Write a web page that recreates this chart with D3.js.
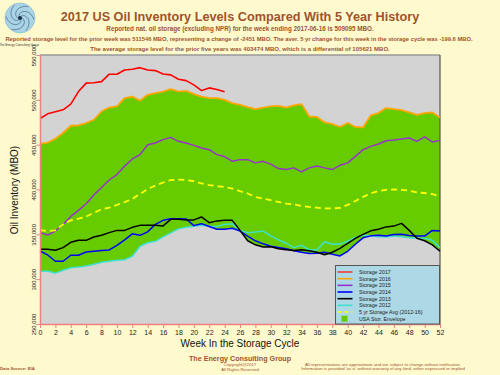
<!DOCTYPE html>
<html><head><meta charset="utf-8">
<script src="https://cdn.jsdelivr.net/npm/d3@7"></script>
<style>
html,body{margin:0;padding:0;background:#FFFACD;}
svg{display:block;font-family:"Liberation Sans",Arial,sans-serif;}
</style></head>
<body>
<svg id="chart" width="500" height="375"></svg>
<script>
const weeks = d3.range(0, 53);
const s2017 = [479200,484400,486700,488900,495200,509200,518600,519000,520300,528600,528600,533300,534100,535900,533300,532600,528900,527800,523000,521400,516700,510300,513300,511546,509095];
const s2016 = [450800,452200,456700,463000,471100,471400,474100,477800,487000,491400,492600,501900,503700,498900,505600,507400,509200,511900,509200,510000,506300,503700,501900,501900,500000,496300,494400,491900,489700,491400,492600,493300,491400,493700,495200,481400,480800,474800,473000,469700,474100,469700,469200,482600,485200,490800,489700,488600,485900,483300,485200,485900,480300];
const s2015 = [351900,349200,353700,361100,370000,376700,384100,393900,402200,410600,416700,426100,434100,438900,450000,451900,455600,458100,453700,451900,449200,446300,444400,438900,436700,431400,433300,433300,429700,431400,428300,423300,422200,424100,419700,424100,426300,424100,422200,427000,429700,437000,444400,448100,450800,454400,455200,456300,457400,453700,458600,453000,454800];
const s2014 = [331400,327000,320000,320000,326700,326700,330300,331100,331900,332600,337800,343900,350600,348900,352800,361100,365600,367400,367400,367200,359700,361900,358700,355600,355600,356700,353700,348000,342800,339400,336700,335200,333900,331700,330000,328700,328900,330000,327800,325900,331100,338900,346100,348300,349100,348100,349700,350200,348700,348100,348100,354400,353700];
const s2013 = [333300,333300,332200,335200,341100,343300,343300,347000,348900,351900,354400,354400,357800,360000,360000,360000,359400,366700,366700,366100,366100,369400,363000,365000,365600,365600,354400,342800,338300,335900,336100,333900,332800,331900,332800,331700,330000,327200,330000,334400,340000,345600,350000,353900,355600,358300,359200,362200,354400,345600,342800,338300,331100];
const s2012 = [308600,309200,306700,310000,312800,313600,314800,316700,318900,320000,321100,321700,325600,336700,340600,342200,347200,351700,356100,357800,359100,360000,358900,358700,361100,361700,354400,351900,352600,353700,348300,343900,340000,335200,337800,332800,332600,341700,338900,339100,342200,346700,348900,348300,347400,347100,348000,347200,346100,345600,345600,343300,335200];
const avg5 = [354800,353700,354400,361100,365600,367400,369700,374100,377800,379700,382800,385900,389400,395000,400600,404400,407800,410600,411100,410600,409200,406700,405000,403700,402800,401100,398100,395600,391700,389700,388100,386100,384200,383300,381700,380600,379700,378900,378900,379400,382800,387200,391700,395600,398300,399700,400000,399700,398700,396700,396100,395000,392200];
const xTicks = d3.range(0, 53, 2);
const yTicks = d3.range(250000, 550001, 50000);
const legendLabels = ["Storage 2017","Storage 2016","Storage 2015","Storage 2014","Storage 2013","Storage 2012","5 yr Storage Avg (2012-16)","USA Stor. Envelope"];

const svg = d3.select("#chart");
const brown = "#a0522d";
const salmon = "#f08080";
const x = d3.scaleLinear().domain([0, 52]).range([40, 440]);
const y = d3.scaleLinear().domain([250000, 550000]).range([324, 55]);

// plot background
svg.append("rect").attr("x", x(0)).attr("y", y(550000)).attr("width", x(52)-x(0)).attr("height", y(250000)-y(550000)).attr("fill", "#d3d3d3");

// envelope
const five = [s2016, s2015, s2014, s2013, s2012];
const env = weeks.map(w => ({w, hi: d3.max(five, s => s[w]), lo: d3.min(five, s => s[w])}));
svg.append("path").datum(env)
  .attr("d", d3.area().x(d => x(d.w)).y0(d => y(d.lo)).y1(d => y(d.hi)))
  .attr("fill", "#66cc00");

// borders
svg.append("line").attr("x1", x(0)).attr("x2", x(52)).attr("y1", y(550000)).attr("y2", y(550000)).attr("stroke", "#999").attr("stroke-width", 1.5);
svg.append("line").attr("x1", x(52)).attr("x2", x(52)).attr("y1", y(550000)).attr("y2", y(250000)).attr("stroke", "#555").attr("stroke-width", 1.2);

const line = d3.line().x((d, i) => x(i)).y(d => y(d));
function drawLine(data, color, width, dash) {
  const p = svg.append("path").datum(data).attr("d", line).attr("fill", "none")
    .attr("stroke", color).attr("stroke-width", width).attr("stroke-linejoin", "round");
  if (dash) p.attr("stroke-dasharray", dash);
}
const cols = {s2017: "#ff0000", s2016: "#ffa500", s2015: "#9932cc", s2014: "#0000ff", s2013: "#000000", s2012: "#40e0d0", avg: "#ffff00"};
drawLine(s2012, cols.s2012, 1.5);
drawLine(s2014, cols.s2014, 1.5);
drawLine(s2013, cols.s2013, 1.5);
drawLine(s2015, cols.s2015, 1.5);
drawLine(s2016, cols.s2016, 1.8);
drawLine(avg5, cols.avg, 1.8, "6,4");
drawLine(s2017, cols.s2017, 1.6);

// axes
const xAxis = svg.append("g").attr("transform", `translate(0,${y(250000)})`)
  .call(d3.axisBottom(x).tickValues(xTicks).tickSize(4).tickSizeOuter(0).tickPadding(2));
xAxis.select(".domain").attr("stroke", salmon).attr("stroke-width", 1.5);
xAxis.selectAll(".tick line").attr("stroke", salmon);
xAxis.selectAll(".tick text").attr("font-size", 7).attr("fill", "#222").attr("font-family", "Liberation Sans, Arial, sans-serif");

const yAxis = svg.append("g").attr("transform", `translate(${x(0)},0)`)
  .call(d3.axisLeft(y).tickValues(yTicks).tickSize(3).tickSizeOuter(0));
yAxis.select(".domain").attr("stroke", salmon).attr("stroke-width", 1.5);
yAxis.selectAll(".tick line").attr("stroke", salmon);
yAxis.selectAll(".tick text").attr("font-size", 6).attr("fill", "#222").attr("font-family", "Liberation Sans, Arial, sans-serif")
  .attr("x", 0).attr("dy", 0).attr("text-anchor", "middle").attr("transform", "translate(-4,0) rotate(-90)");

// axis titles
svg.append("text").attr("transform", "translate(18,190) rotate(-90)").attr("text-anchor", "middle")
  .attr("font-size", 10).attr("fill", "#111").text("Oil Inventory (MBO)");
svg.append("text").attr("x", 240).attr("y", 347).attr("text-anchor", "middle")
  .attr("font-size", 10).attr("fill", "#111").text("Week In the Storage Cycle");

// titles
svg.append("text").attr("x", 240).attr("y", 21).attr("text-anchor", "middle").attr("font-weight", "bold")
  .attr("font-size", 12.7).attr("fill", brown).text("2017 US Oil Inventory Levels Compared With 5 Year History");
svg.append("text").attr("x", 240).attr("y", 31).attr("text-anchor", "middle").attr("font-weight", "bold")
  .attr("font-size", 6.3).attr("fill", brown).text("Reported nat. oil storage (excluding NPR) for the week ending 2017-06-16 is 509095 MBO.");
svg.append("text").attr("x", 239).attr("y", 41).attr("text-anchor", "middle").attr("font-weight", "bold")
  .attr("font-size", 5.8).attr("fill", brown).text("Reported storage level for the prior week was 511546 MBO, representing a change of -2451 MBO.  The aver. 5 yr change for this week in the storage cycle was -199.6 MBO.");
svg.append("text").attr("x", 240).attr("y", 51.3).attr("text-anchor", "middle").attr("font-weight", "bold")
  .attr("font-size", 6).attr("fill", brown).text("The average storage level for the prior five years was 403474 MBO, which is a differential of 105621 MBO.");

// logo
const logo = svg.append("g").attr("transform", "translate(20,18)");
logo.append("circle").attr("r", 15).attr("fill", "#a8d4e6").attr("stroke", "#8fbcd0").attr("stroke-width", 0.8);
for (let k = 0; k < 6; k++) {
  const a0 = k * Math.PI / 3;
  const pts = d3.range(0, 1.01, 0.1).map(t => {
    const r = 2 + t * 12, a = a0 + t * 2.2;
    return [r * Math.cos(a), r * Math.sin(a)];
  });
  logo.append("path").attr("d", d3.line().curve(d3.curveBasis)(pts)).attr("fill", "none").attr("stroke", "#2a3a5a").attr("stroke-width", 0.5);
}
logo.append("circle").attr("r", 2).attr("fill", "#1a2a4a");
svg.append("text").attr("x", 19).attr("y", 45.5).attr("text-anchor", "middle").attr("font-size", 3).attr("fill", "#333").text("The Energy Consulting Group");

// legend
const lg = svg.append("g");
lg.append("rect").attr("x", 335.5).attr("y", 265.5).attr("width", 104).attr("height", 58.5)
  .attr("fill", "#add8e6").attr("stroke", "#555").attr("stroke-width", 1);
const legCols = [cols.s2017, cols.s2016, cols.s2015, cols.s2014, cols.s2013, cols.s2012, cols.avg];
legendLabels.forEach((lab, i) => {
  const yy = 272 + i * 6.67;
  if (i < 7) {
    const l = lg.append("line").attr("x1", 337.5).attr("x2", 352.5).attr("y1", yy).attr("y2", yy)
      .attr("stroke", legCols[i]).attr("stroke-width", 1.6);
    if (i === 0) l.attr("stroke", "#e85050").attr("stroke-width", 1.8);
    if (i === 6) l.attr("stroke-dasharray", "4,3");
  } else {
    lg.append("rect").attr("x", 341.5).attr("y", yy - 3).attr("width", 6).attr("height", 6).attr("fill", "#66cc00");
  }
  lg.append("text").attr("x", 359).attr("y", yy + 2).attr("font-size", 5.3).attr("fill", "#222").text(lab);
});

// footer
svg.append("text").attr("x", 240).attr("y", 361).attr("text-anchor", "middle").attr("font-weight", "bold")
  .attr("font-size", 7.2).attr("fill", brown).text("The Energy Consulting Group");
svg.append("text").attr("x", 240).attr("y", 366).attr("text-anchor", "middle").attr("font-size", 4.3).attr("fill", brown).text("Copyright@2017");
svg.append("text").attr("x", 240).attr("y", 370.5).attr("text-anchor", "middle").attr("font-size", 4.3).attr("fill", brown).text("All Rights Reserved");
svg.append("text").attr("x", 0).attr("y", 370).attr("font-size", 4.3).attr("font-weight", "bold").attr("fill", brown).text("Data Source: EIA");
svg.append("text").attr("x", 383).attr("y", 365.5).attr("text-anchor", "middle").attr("font-size", 4.3).attr("fill", brown).text("All representations are approximate and are subject to change without notification.");
svg.append("text").attr("x", 383).attr("y", 370).attr("text-anchor", "middle").attr("font-size", 4.3).attr("fill", brown).text("Information is provided 'as is' without warranty of any kind, either expressed or implied");
</script>
</body></html>
